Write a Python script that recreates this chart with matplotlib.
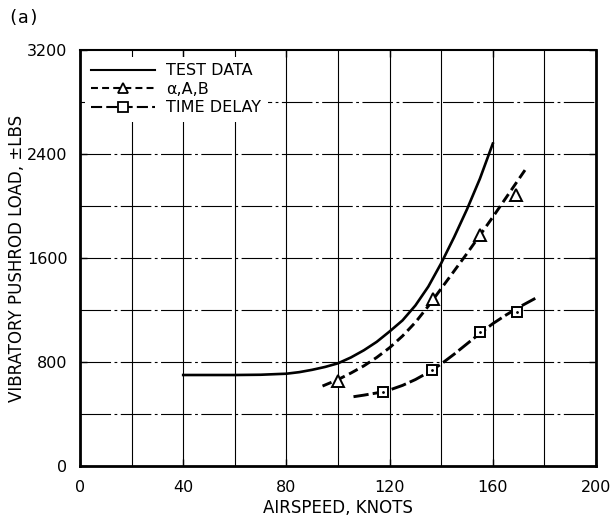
import numpy as np
import matplotlib
matplotlib.use('Agg')
import matplotlib.pyplot as plt

# ============================================================
# DATOS
# ============================================================
# Curva de ensayo (linea continua)
vel_ensayo = [40, 50, 60, 70, 80, 85, 90, 95, 100, 105, 110, 115, 120,
              125, 130, 135, 140, 145, 150, 155, 160]
carga_ensayo = [700, 700, 700, 702, 710, 722, 740, 762, 790, 835, 890, 955, 1035,
                1120, 1235, 1380, 1560, 1760, 1975, 2210, 2480]

# Modelo alfa, A, B (curva a trazos + triangulos)
vel_aab = [94, 100, 105, 110, 115, 120, 125, 130, 135, 140, 145, 150, 155, 160, 165, 172.6]
carga_aab = [615, 665, 715, 770, 835, 910, 1000, 1105, 1230, 1365, 1500, 1635, 1775,
             1915, 2060, 2280]
vel_aab_pts = [100, 137, 155, 169]
carga_aab_pts = [654, 1282, 1777, 2085]

# Modelo con retardo (curva a trazos + cuadrados)
vel_ret = [106, 110, 115, 120, 125, 130, 135, 140, 145, 150, 155, 160, 165, 170, 176.5]
carga_ret = [533, 545, 562, 585, 620, 665, 720, 785, 860, 940, 1020, 1095, 1160, 1220, 1290]
vel_ret_pts = [117.3, 136.4, 155.2, 169.3]
carga_ret_pts = [569, 738, 1028, 1185]

ticks_x = [0, 40, 80, 120, 160, 200]
ticks_y = [0, 800, 1600, 2400, 3200]

# ============================================================
# FIGURA
# ============================================================
plt.rcParams['font.family'] = 'DejaVu Sans'
plt.rcParams['lines.scale_dashes'] = False
fig = plt.figure(figsize=(6.13, 5.19), dpi=100)
ax = fig.add_axes([0.1305, 0.1021, 0.8418, 0.8016])

# rejilla: verticales continuas cada 20, horizontales a trazos cada 400
for xv in range(20, 200, 20):
    ax.axvline(xv, color='black', lw=0.8, zorder=1)
for yv in range(400, 3200, 400):
    ax.axhline(yv, color='black', lw=0.8, dashes=(22, 2.5, 2, 2.5), zorder=1)

# curvas
ax.plot(vel_ensayo, carga_ensayo, color='black', lw=1.9, zorder=3)
ax.plot(vel_aab, carga_aab, color='black', lw=2.1, dashes=(7, 3.5), zorder=3)
ax.plot(vel_ret, carga_ret, color='black', lw=2.1, dashes=(11, 3), zorder=3)

# marcadores
ax.plot(vel_aab_pts, carga_aab_pts, ls='none', marker='^', ms=8, mfc='white',
        mec='black', mew=1.4, zorder=4)
ax.plot(vel_ret_pts, carga_ret_pts, ls='none', marker='s', ms=7.5, mfc='white',
        mec='black', mew=1.4, zorder=4)
ax.plot(vel_ret_pts, carga_ret_pts, ls='none', marker='.', ms=2, color='black', zorder=5)

# leyenda (entradas ficticias)
l1, = ax.plot([], [], color='black', lw=1.5)
l2, = ax.plot([], [], color='black', lw=1.5, dashes=(5, 3), marker='^', ms=6.5,
              mfc='white', mec='black', mew=1.3)
l3, = ax.plot([], [], color='black', lw=1.5, dashes=(8, 3), marker='s', ms=6.5,
              mfc='white', mec='black', mew=1.3)
leg = ax.legend([l1, l2, l3], ['TEST DATA', 'α,A,B', 'TIME DELAY'],
                loc='upper left', bbox_to_anchor=(0.0, 0.995), fontsize=11.5,
                handlelength=4.0, handletextpad=0.7, labelspacing=0.22,
                borderaxespad=0.3, frameon=True, fancybox=False,
                facecolor='white', edgecolor='none', framealpha=1)
leg.set_zorder(6)

# ejes
ax.set_xlim(0, 200)
ax.set_ylim(0, 3200)
ax.set_xticks(ticks_x)
ax.set_yticks(ticks_y)
ax.tick_params(direction='in', length=5, width=1, labelsize=11.5,
               top=True, right=True)
ax.tick_params(axis='x', pad=10)
ax.tick_params(axis='y', pad=9)
for lado in ['left', 'bottom', 'right']:
    ax.spines[lado].set_linewidth(2)
ax.spines['top'].set_linewidth(1.5)

ax.set_xlabel('AIRSPEED, KNOTS', fontsize=12, labelpad=3)
ax.set_ylabel('VIBRATORY PUSHROD LOAD, ±LBS', fontsize=12)
ax.yaxis.set_label_coords(-0.105, 0.5)

fig.text(0.012, 0.965, '(a)', fontsize=13, family='DejaVu Sans Mono', va='center')

fig.savefig('out.png', dpi=100)
